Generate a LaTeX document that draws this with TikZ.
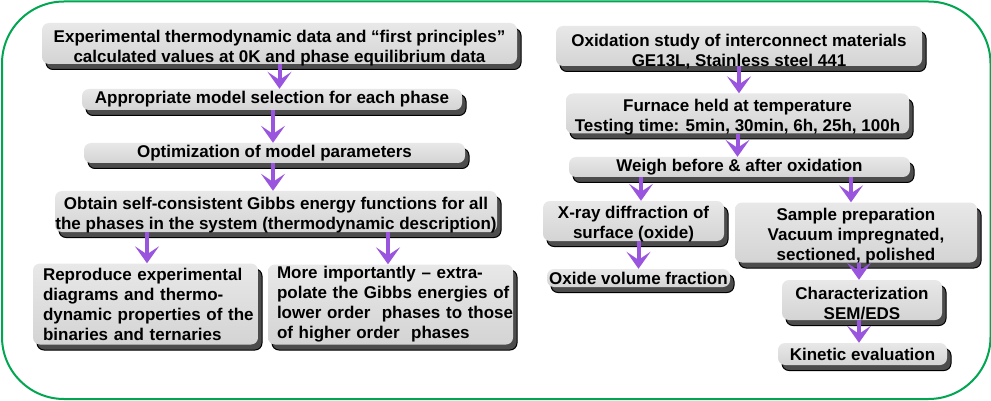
\documentclass[tikz,border=0pt]{standalone}
\usepackage{fontspec}
\setmainfont{Liberation Sans}
\usetikzlibrary{arrows.meta,shadows,calc}
\definecolor{frame}{RGB}{0,166,81}
\definecolor{purp}{RGB}{153,85,221}
\newcommand\dn[2]{\raisebox{-#1}[\height][\depth]{\begin{tabular}{@{}c@{}}#2\end{tabular}}}
\begin{document}
\begin{tikzpicture}[x=1pt,y=-1pt,
  box/.style={rounded corners=7pt, top color=black!9, middle color=white, bottom color=black!17,
    draw=none, inner sep=0pt, align=center,
    font=\fontsize{17}{20}\selectfont\bfseries,
    drop shadow={shadow xshift=4pt, shadow yshift=-5.5pt, fill=black!70, draw=black, line width=1pt, opacity=1}},
  lbox/.style={box, align=left},
  arr/.style={draw=purp, line width=4pt, -{Stealth[length=17pt,width=24pt,inset=8pt]}},
]
\useasboundingbox (0,0) rectangle (991,401);
\draw[frame, line width=2pt, rounded corners=62pt] (2,1.5) rectangle (990.5,399);

% left column
\node[box, minimum width=475, minimum height=41] (b1) at (279.5,43.5) {\dn{5pt}{Experimental thermodynamic data and “first principles”\\calculated values at 0K and phase equilibrium data}};
\node[box, minimum width=380, minimum height=21] (b2) at (272,99.5) {Appropriate model selection for each phase};
\node[box, minimum width=381, minimum height=20] (b3) at (274.5,153) {Optimization of model parameters};
\node[box, minimum width=442, minimum height=41] (b4) at (276,211.5) {\dn{4pt}{Obtain self-consistent Gibbs energy functions for all\\the phases in the system (thermodynamic description)}};
\node[lbox, minimum width=225, minimum height=81, text width=205] (b5) at (145.5,304) {\mbox{Reproduce experimental}\\\mbox{diagrams and thermo-}\\\mbox{dynamic properties of the}\\\mbox{binaries and ternaries}};
\node[lbox, minimum width=245, minimum height=80, text width=227] (b6) at (390.5,304.5) {\mbox{More importantly -- extra-}\\\mbox{polate the Gibbs energies of}\\\mbox{lower order\ \ phases to those}\\\mbox{of higher order\ \ phases}};

% right column
\node[box, minimum width=366, minimum height=38] (r1) at (739,46) {\dn{6.5pt}{Oxidation study of interconnect materials\\GE13L, Stainless steel 441}};
\node[box, minimum width=343, minimum height=37] (r2) at (737.5,113.5) {\dn{4pt}{Furnace held at temperature\\Testing time: 5min, 30min, 6h, 25h, 100h}};
\node[box, minimum width=341, minimum height=20] (r3) at (739.5,167) {\dn{1pt}{Weigh before \& after oxidation}};
\node[box, minimum width=181, minimum height=32] (r4) at (633.5,221) {\dn{3.5pt}{X-ray diffraction of\\surface (oxide)}};
\node[box, minimum width=183, minimum height=18] (r5) at (638.5,278) {Oxide volume fraction};
\node[box, minimum width=242, minimum height=55] (r6) at (856,232.5) {\dn{4pt}{Sample preparation\\Vacuum impregnated,\\sectioned, polished}};
\node[box, minimum width=160, minimum height=34] (r7) at (862,300) {\dn{5pt}{Characterization\\SEM/EDS}};
\node[box, minimum width=169, minimum height=22] (r8) at (862.5,354) {Kinetic evaluation};

% connectors
\draw[arr] (b1.south) -- (b1.south |- b2.north);
\draw[arr] ([xshift=1pt]b2.south) -- ([xshift=1pt]b2.south |- b3.north);
\draw[arr] ([xshift=-1.5pt]b3.south) -- ([xshift=-1.5pt]b3.south |- b4.north);
\draw[arr] ([xshift=1.5pt]b5.north |- b4.south) -- ([xshift=1.5pt]b5.north);
\draw[arr] ([xshift=-2.5pt]b6.north |- b4.south) -- ([xshift=-2.5pt]b6.north);
\draw[arr] (r1.south) -- (r1.south |- r2.north);
\draw[arr] (r2.south) -- (r2.south |- r3.north);
\draw[arr] ([xshift=7.5pt]r4.north |- r3.south) -- ([xshift=7.5pt]r4.north);
\draw[arr] ([xshift=-5pt]r6.north |- r3.south) -- ([xshift=-5pt]r6.north);
\draw[arr] (r5.north |- r4.south) -- (r5.north);
\draw[arr] ([xshift=-3pt]r7.north |- r6.south) -- ([xshift=-3pt]r7.north);
\draw[arr] ([xshift=-3pt]r7.south) -- ([xshift=-3pt]r7.south |- r8.north);
\end{tikzpicture}
\end{document}
